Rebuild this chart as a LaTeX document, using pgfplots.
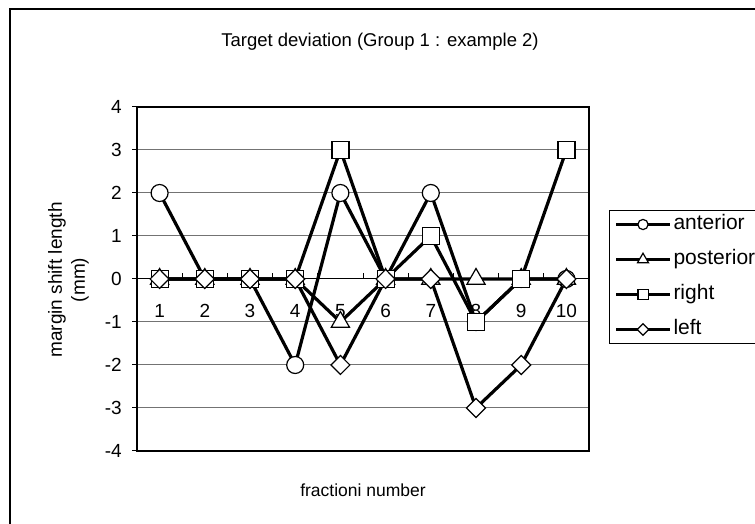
\documentclass[border=0pt]{standalone}
\usepackage{pgfplots}
\usepackage{pgfplotstable}
\pgfplotsset{compat=1.18}
\usepackage{fontspec}
\setmainfont{Liberation Sans}

% margin shift per fraction (mm)
\pgfplotstableread{
x  ant  post  right  left
1   2    0     0      0
2   0    0     0      0
3   0    0     0      0
4  -2    0     0      0
5   2   -1     3     -2
6   0    0     0      0
7   2    0     1      0
8  -1    0    -1     -3
9   0    0     0     -2
10  0    0     3      0
}\shiftdata

\begin{document}
\begin{tikzpicture}[font=\fontsize{19}{22}\selectfont]
\useasboundingbox (0pt,0pt) rectangle (755pt,524pt);
% chart frame
\draw[line width=2.2pt] (10pt,-5pt) -- (10pt,515pt) -- (765pt,515pt);
\node[font=\fontsize{18.5}{21}\selectfont] at (380pt,482pt) {Target deviation (Group 1 : example 2)};
\node[rotate=90] at (57pt,244pt) {margin shift length};
\node[rotate=90] at (80pt,244pt) {(mm)};
\node[font=\fontsize{17.5}{20}\selectfont] at (363pt,34pt) {fractioni number};

\begin{axis}[
  at={(137pt,73pt)}, anchor=south west,
  scale only axis, width=452pt, height=344pt,
  xmin=0.5, xmax=10.5, ymin=-4, ymax=4,
  xtick={1,2,3,4,5,6,7,8,9,10},
  xticklabels={1,2,3,4,5,6,7,8,9,10},
  xtick style={draw=none},
  xticklabel style={anchor=center, yshift=145pt},
  ytick={-4,-3,-2,-1,0,1,2,3,4},
  yticklabels={-4,-3,-2,-1,0,1,2,3,4},
  ytick pos=left,
  ytick style={black, line width=1pt},
  tick align=outside,
  major tick length=5pt,
  yticklabel style={anchor=east, inner sep=0pt, xshift=-10pt},
  ymajorgrids,
  grid style={black!55, line width=1pt},
  axis line style={black, line width=1.8pt},
  every axis plot/.append style={black, line width=3.2pt},
  legend style={at={(1,1)}, anchor=north west, xshift=20pt, yshift=-103pt,
    draw=black, line width=1pt, fill=white,
    inner xsep=5pt, inner ysep=3pt,
    font=\fontsize{21}{24}\selectfont,
    nodes={inner sep=2pt, text height=14pt, text depth=4pt},
    row sep=13pt, cells={anchor=west}},
  legend cell align=left,
  legend image code/.code={
    \draw[line width=3pt] (0pt,0pt) -- (54pt,0pt);
    \draw[every mark/.append style={scale=0.6}] plot coordinates {(27pt,0pt)};
  },
  clip=false,
]
% horizontal axis through zero with its ticks
\draw[black, line width=1pt] (axis cs:0.5,0) -- (axis cs:10.5,0);
\pgfplotsinvokeforeach{1.5,2.5,3.5,4.5,5.5,6.5,7.5,8.5,9.5}{
  \draw[black, line width=1pt] (axis cs:#1,0) -- ++(0pt,6pt);
}
\addplot[mark=*, mark size=8.5pt, mark options={fill=white, line width=1.2pt}]
  table[x=x, y=ant] {\shiftdata};
\addlegendentry{anterior}
\addplot[mark=triangle*, mark size=10.5pt, mark options={fill=white, line width=1.2pt}]
  table[x=x, y=post] {\shiftdata};
\addlegendentry{posterior}
\addplot[mark=square*, mark size=8.5pt, mark options={fill=white, line width=1.2pt}]
  table[x=x, y=right] {\shiftdata};
\addlegendentry{right}
\addplot[mark=diamond*, mark size=9.5pt, mark options={fill=white, line width=1.2pt, xscale=1.33}]
  table[x=x, y=left] {\shiftdata};
\addlegendentry{left}
\end{axis}
\end{tikzpicture}
\end{document}
